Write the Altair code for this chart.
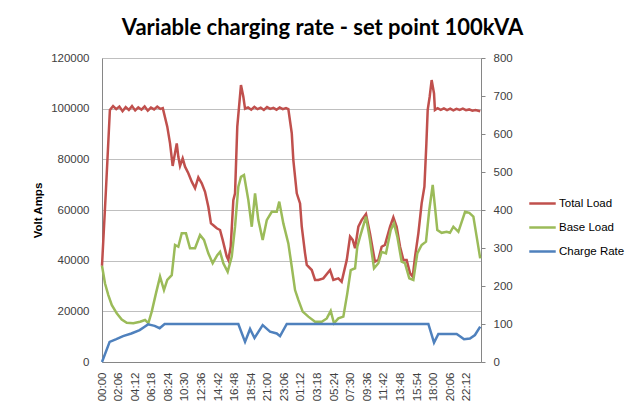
import altair as alt
import pandas as pd

TITLE = "Variable charging rate - set point 100kVA"
SERIES = ["Total Load", "Base Load", "Charge Rate"]
COLORS = ["#C0504D", "#9BBB59", "#4F81BD"]

TICK_LABELS = ["00:00", "02:06", "04:12", "06:18", "08:24", "10:30", "12:36", "14:42",
               "16:48", "18:54", "21:00", "23:06", "01:12", "03:18", "05:24", "07:30",
               "09:36", "11:42", "13:48", "15:54", "18:00", "20:06", "22:12"]
TICK_MINUTES = [0, 126, 252, 378, 504, 630, 756, 882, 1008, 1134, 1260, 1386,
                1512, 1638, 1764, 1890, 2016, 2142, 2268, 2394, 2520, 2646, 2772]
LEFT_TICKS = [0, 20000, 40000, 60000, 80000, 100000, 120000]
RIGHT_TICKS = [0, 100, 200, 300, 400, 500, 600, 700, 800]

# minutes since start / Volt Amps
TOTAL_T = [0, 30, 60, 84, 108, 132, 156, 180, 204, 228, 252, 276, 300, 324, 348, 372, 396,
           420, 444, 462, 496, 517, 537, 568, 580, 593, 613, 631, 656, 682, 707, 732, 758,
           783, 808, 828, 846, 872, 897, 917, 948, 960, 978, 998, 1011, 1028, 1056, 1074,
           1087, 1110, 1134, 1158, 1182, 1206, 1230, 1254, 1278, 1302, 1326, 1350, 1374,
           1398, 1416, 1442, 1454, 1480, 1505, 1518, 1543, 1556, 1594, 1619, 1644, 1682,
           1733, 1758, 1796, 1821, 1860, 1885, 1905, 1923, 1948, 1973, 2006, 2036, 2074,
           2100, 2125, 2150, 2189, 2214, 2239, 2265, 2290, 2315, 2341, 2361, 2379, 2404,
           2429, 2450, 2465, 2475, 2490, 2505, 2523, 2530, 2550, 2574, 2598, 2622, 2646,
           2670, 2694, 2718, 2742, 2766, 2790, 2814, 2838, 2874]
TOTAL_V = [38000, 68000, 99500, 101000, 99800, 100800, 99000, 100600, 99500, 101000, 99300,
           100500, 99600, 100900, 99200, 100400, 99700, 100800, 99900, 100200, 92900, 86300,
           77400, 86300, 81000, 77400, 80400, 77100, 74500, 71200, 68600, 72900, 70500,
           67200, 61300, 54700, 54000, 52800, 52100, 48200, 41600, 40300, 45500, 63900,
           66600, 92900, 109300, 104700, 100000, 100500, 99600, 100700, 99800, 100400,
           99500, 100600, 99900, 100300, 99600, 100500, 99800, 100200, 99800, 90300, 79700,
           66600, 62600, 53400, 42900, 38300, 36300, 32400, 32400, 33000, 36300, 32400,
           33000, 31700, 40300, 49500, 48200, 44900, 53400, 56000, 58400, 50800, 39600,
           40300, 45500, 46200, 53400, 57100, 53400, 45500, 40300, 40300, 35000, 33700,
           41600, 50800, 62600, 69200, 86300, 99500, 104700, 111300, 106000, 99500, 100200,
           99500, 100100, 99400, 100000, 99300, 99900, 99500, 100000, 99400, 99700, 99200,
           99500, 99000]

BASE_T = [0, 23, 48, 74, 112, 150, 188, 238, 289, 327, 352, 378, 410, 441, 471, 496, 530,
          555, 580, 606, 638, 669, 707, 745, 775, 808, 841, 876, 897, 922, 955, 986, 1011,
          1036, 1056, 1079, 1112, 1138, 1163, 1188, 1221, 1252, 1290, 1328, 1347, 1378,
          1416, 1442, 1467, 1492, 1525, 1568, 1619, 1670, 1708, 1738, 1763, 1796, 1834,
          1864, 1890, 1923, 1940, 1961, 2006, 2036, 2067, 2100, 2125, 2158, 2194, 2219,
          2244, 2277, 2302, 2335, 2366, 2396, 2429, 2462, 2487, 2513, 2530, 2548, 2581,
          2619, 2644, 2670, 2708, 2759, 2791, 2822, 2847, 2874]
BASE_V = [38000, 31000, 26400, 22500, 19200, 16800, 15500, 15300, 15900, 16600, 15300, 19900,
          27100, 33700, 28400, 32400, 34300, 46200, 45500, 50800, 50800, 44900, 44900,
          50100, 48200, 42900, 39000, 42200, 43500, 39000, 35600, 41600, 53400, 69200,
          73100, 73800, 63900, 53400, 66600, 56000, 48200, 56000, 59300, 59300, 63300,
          54700, 46800, 37600, 28400, 24500, 19900, 17900, 15900, 15900, 17200, 20200,
          15300, 17200, 17900, 27100, 36300, 37000, 45500, 49500, 57400, 48200, 37000,
          39000, 43500, 42900, 52100, 54700, 49500, 39600, 39000, 33000, 32400, 42900,
          46200, 47500, 60000, 69900, 61300, 52100, 51000, 51400, 51000, 53400, 51400,
          59300, 58900, 57400, 49500, 40900]

RATE_T = [0, 58, 109, 160, 223, 286, 324, 350, 400, 438, 476, 1036, 1087, 1125, 1159, 1221,
          1277, 1328, 1353, 1404, 2480, 2523, 2556, 2695, 2720, 2751, 2796, 2834, 2874]
RATE_V = [0, 53, 60, 68, 75, 84, 93, 99, 95, 89, 100, 100, 53, 87, 63, 97, 80, 75, 68, 100,
          100, 51, 74, 74, 68, 60, 62, 71, 93]

FONT = "Liberation Sans"
TITLE_FONT = "Lato"
TEXT = "#404040"

left_df = pd.concat([
    pd.DataFrame({"t": TOTAL_T, "v": TOTAL_V, "s": SERIES[0]}),
    pd.DataFrame({"t": BASE_T, "v": BASE_V, "s": SERIES[1]}),
], ignore_index=True)
right_df = pd.DataFrame({"t": RATE_T, "v": RATE_V, "s": SERIES[2]})

labels_js = "[" + ",".join("'%s'" % s for s in TICK_LABELS) + "]"
values_js = "[" + ",".join(str(v) for v in TICK_MINUTES) + "]"

x_enc = alt.X(
    "t:Q",
    scale=alt.Scale(domain=[0, 2880], nice=False, zero=False),
    axis=alt.Axis(
        values=TICK_MINUTES,
        labelExpr=labels_js + "[indexof(" + values_js + ", datum.value)]",
        labelAngle=270, labelAlign="right", labelBaseline="middle",
        grid=False, title=None, ticks=False, tickSize=0, labelPadding=10,
        domainColor="#868686", labelFont=FONT, labelFontSize=11.5, labelColor=TEXT,
        labelOverlap=False,
    ),
)

color_enc = alt.Color(
    "s:N",
    scale=alt.Scale(domain=SERIES, range=COLORS),
    legend=alt.Legend(
        title=None, orient="none", legendX=426, legendY=131,
        symbolType="stroke", symbolSize=700, symbolStrokeWidth=2.5,
        labelFont=FONT, labelFontSize=11.5, labelColor="#000000",
        rowPadding=4, padding=0, labelOffset=2,
    ),
)

left = alt.Chart(left_df).mark_line(strokeWidth=2.5).encode(
    x=x_enc,
    y=alt.Y(
        "v:Q",
        scale=alt.Scale(domain=[0, 120000], nice=False),
        axis=alt.Axis(
            values=LEFT_TICKS, format="d", title="Volt Amps",
            titleFont=FONT, titleFontSize=11.5, titleFontWeight="bold", titleColor="#000000",
            titlePadding=7, ticks=False, tickSize=0, labelPadding=13,
            labelFont=FONT, labelFontSize=11.5, labelColor=TEXT,
            gridColor="#BFBFBF", gridWidth=1, domainColor="#868686",
        ),
    ),
    color=color_enc,
)

right = alt.Chart(right_df).mark_line(strokeWidth=2.5).encode(
    x=x_enc,
    y=alt.Y(
        "v:Q",
        scale=alt.Scale(domain=[0, 800], nice=False),
        axis=alt.Axis(
            orient="right", values=RIGHT_TICKS, title=None, grid=False,
            ticks=True, tickSize=4, tickColor="#868686", labelPadding=8,
            labelFont=FONT, labelFontSize=11.5, labelColor=TEXT, domainColor="#868686",
        ),
    ),
    color=color_enc,
)

chart = alt.layer(left, right).resolve_scale(y="independent").properties(
    width=379, height=304,
    autosize=alt.AutoSizeParams(type="none"),
    padding={"left": 94, "top": 50, "right": 152, "bottom": 41},
    title=alt.TitleParams(
        TITLE, font=TITLE_FONT, fontSize=22, fontWeight="bold", color="#000000",
        anchor="middle", dx=31, offset=12,
    ),
).configure_view(stroke=None).configure(background="white")

chart.save("out.html", embed_options={"renderer": "svg", "actions": False})
